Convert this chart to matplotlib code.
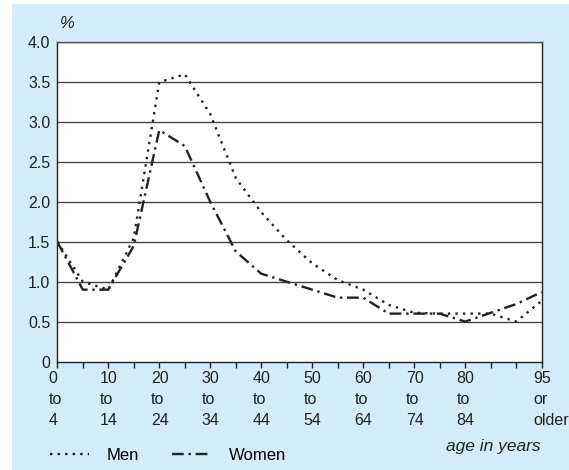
import matplotlib
matplotlib.use('Agg')
import matplotlib.pyplot as plt
from matplotlib.patches import Rectangle
from matplotlib.transforms import ScaledTranslation

plt.rcParams['font.family'] = ['Liberation Sans', 'DejaVu Sans']

# data (share of age group, %)
ages = [0, 5, 10, 15, 20, 25, 30, 35, 40, 45, 50, 55, 60, 65, 70, 75, 80, 85, 90, 95]
men = [1.5, 1.0, 0.9, 1.55, 3.5, 3.6, 3.1, 2.3, 1.87, 1.52, 1.23, 1.02, 0.9, 0.71, 0.61, 0.6, 0.6, 0.6, 0.5, 0.76]
women = [1.5, 0.9, 0.9, 1.45, 2.9, 2.7, 2.0, 1.38, 1.1, 1.0, 0.9, 0.8, 0.8, 0.6, 0.6, 0.6, 0.5, 0.61, 0.72, 0.87]

label_ages = [0, 10, 20, 30, 40, 50, 60, 70, 80, 95]
x_labels = ['0\nto\n4', '10\nto\n14', '20\nto\n24', '30\nto\n34', '40\nto\n44',
            '50\nto\n54', '60\nto\n64', '70\nto\n74', '80\nto\n84', '95\nor\nolder']
y_ticks = [0, 0.5, 1.0, 1.5, 2.0, 2.5, 3.0, 3.5, 4.0]
y_labels = ['0', '0.5', '1.0', '1.5', '2.0', '2.5', '3.0', '3.5', '4.0']

bg = '#d3ecf8'

fig = plt.figure(figsize=(5.69, 4.70), dpi=100)
fig.patch.set_facecolor('white')
fig.patches.append(Rectangle((12 / 569, 0), 1, 1 - 4 / 470, transform=fig.transFigure,
                             facecolor=bg, edgecolor='none', zorder=-10))

ax = fig.add_axes([57.3 / 569, 1 - 361.5 / 470, (541.7 - 57.3) / 569, (361.5 - 42.3) / 470])
ax.set_facecolor('white')

men_line, = ax.plot(ages, men, color='#222222', lw=1.7, linestyle=(0, (1, 2.2)),
                    dash_capstyle='butt', label='Men')
women_line, = ax.plot(ages, women, color='#222222', lw=1.7, linestyle=(0, (5, 2, 1, 2)),
                      dash_capstyle='butt', label='Women')

ax.set_xlim(0, 95)
ax.set_ylim(0, 4)
for v in y_ticks[1:]:
    ax.axhline(v, color='#444444', lw=1.0, zorder=0)

ax.set_yticks(y_ticks)
ax.set_yticklabels(y_labels)
ax.tick_params(axis='y', length=0, pad=5, labelsize=11.5, colors='#222222')

ax.set_xticks(label_ages)
ax.set_xticks(range(5, 95, 5), minor=True)
ax.set_xticklabels(x_labels)
ax.tick_params(axis='x', which='both', direction='out', length=4, width=1, pad=2.5,
               labelsize=11.5, colors='#222222')
offset = ScaledTranslation(-8.5 / 100, 0, fig.dpi_scale_trans)
for lab in ax.get_xticklabels():
    lab.set_ha('left')
    lab.set_multialignment('left')
    lab.set_linespacing(1.5)
    lab.set_transform(lab.get_transform() + offset)

for s in ax.spines.values():
    s.set_color('#222222')
    s.set_linewidth(1.0)
ax.spines['top'].set_color('#555555')

fig.text(60 / 569, 1 - 24 / 470, '%', fontsize=12, style='italic', va='center', color='#222222')
fig.text(540.6 / 569, 1 - 447 / 470, 'age in years', fontsize=12.5, style='italic',
         ha='right', va='center', color='#222222')

fig.legend(handles=[men_line, women_line], loc='center left', ncol=2,
           bbox_to_anchor=(50 / 569, 1 - 455 / 470), frameon=False, fontsize=12,
           borderpad=0, borderaxespad=0,
           handlelength=2.35, handletextpad=1.05, columnspacing=2.0)

fig.savefig('out.png', dpi=100)
